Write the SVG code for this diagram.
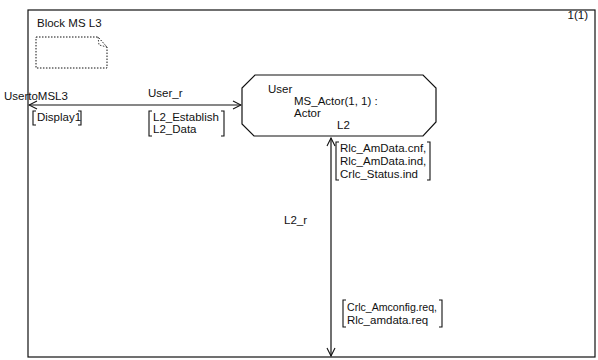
<svg xmlns="http://www.w3.org/2000/svg" width="598" height="360" viewBox="0 0 598 360">
<style>
text{font-family:"Liberation Sans",Arial,sans-serif;font-size:11.5px;fill:#111}
.ln{fill:none;stroke:#111;stroke-width:1.2}
.br{fill:none;stroke:#111;stroke-width:1.1}
</style>
<defs>
<marker id="ah" markerWidth="10" markerHeight="10" refX="9" refY="5" orient="auto-start-reverse" markerUnits="userSpaceOnUse">
<path d="M1,1 L9,5 L1,9" fill="none" stroke="#111" stroke-width="1.1"/>
</marker>
</defs>
<rect width="598" height="360" fill="#fff"/>
<g id="frame">
<rect x="28" y="10" width="567" height="347" class="ln" stroke-width="1.6"/>
<text x="37" y="27" font-size="12">Block MS L3</text>
<text x="588" y="19" text-anchor="end" font-size="10">1(1)</text>
<path d="M36,37 H98 L107,47 V68 H36 Z" fill="none" stroke="#111" stroke-width="1" stroke-dasharray="1.5,1.5"/>
<path d="M98,37 L99,45 L107,47" fill="none" stroke="#111" stroke-width="0.8" stroke-dasharray="1.5,1.5"/>
</g>
<g id="User">
<path d="M255,75 H423 L436,88 V122 L423,136 H254 L242,124 V88 Z" class="ln"/>
<text x="268" y="93">User</text>
<text x="294" y="104.5">MS_Actor(1,  1) :</text>
<text x="294" y="117">Actor</text>
<text x="337" y="129">L2</text>
</g>
<g id="connectors">
<g id="User_r">
<line x1="29" y1="105" x2="241" y2="105" class="ln" marker-end="url(#ah)" marker-start="url(#ah)"/>
<text x="4" y="100" font-size="12">UsertoMSL3</text>
<text x="148" y="97" font-size="12">User_r</text>
<path d="M36,111 H33 V125 H36" class="br"/>
<path d="M78,111 H81 V125 H78" class="br"/>
<text x="37" y="121">Display1</text>
<path d="M152,111 H149 V136 H152" class="br"/>
<path d="M221,111 H224 V136 H221" class="br"/>
<text x="153" y="121">L2_Establish</text>
<text x="153" y="133">L2_Data</text>
</g>
<g id="L2_r">
<line x1="331" y1="138" x2="331" y2="356" class="ln" marker-end="url(#ah)" marker-start="url(#ah)"/>
<path d="M339,142 H336 V180 H339" class="br"/>
<path d="M427,142 H430 V180 H427" class="br"/>
<text x="340" y="152">Rlc_AmData.cnf,</text>
<text x="340" y="165">Rlc_AmData.ind,</text>
<text x="340" y="178">Crlc_Status.ind</text>
<text x="284" y="224">L2_r</text>
<path d="M346,300 H343 V327 H346" class="br"/>
<path d="M439,300 H442 V327 H439" class="br"/>
<text x="347" y="311" textLength="90" lengthAdjust="spacingAndGlyphs">Crlc_Amconfig.req,</text>
<text x="347" y="324">Rlc_amdata.req</text>
</g>
</g>
</svg>
